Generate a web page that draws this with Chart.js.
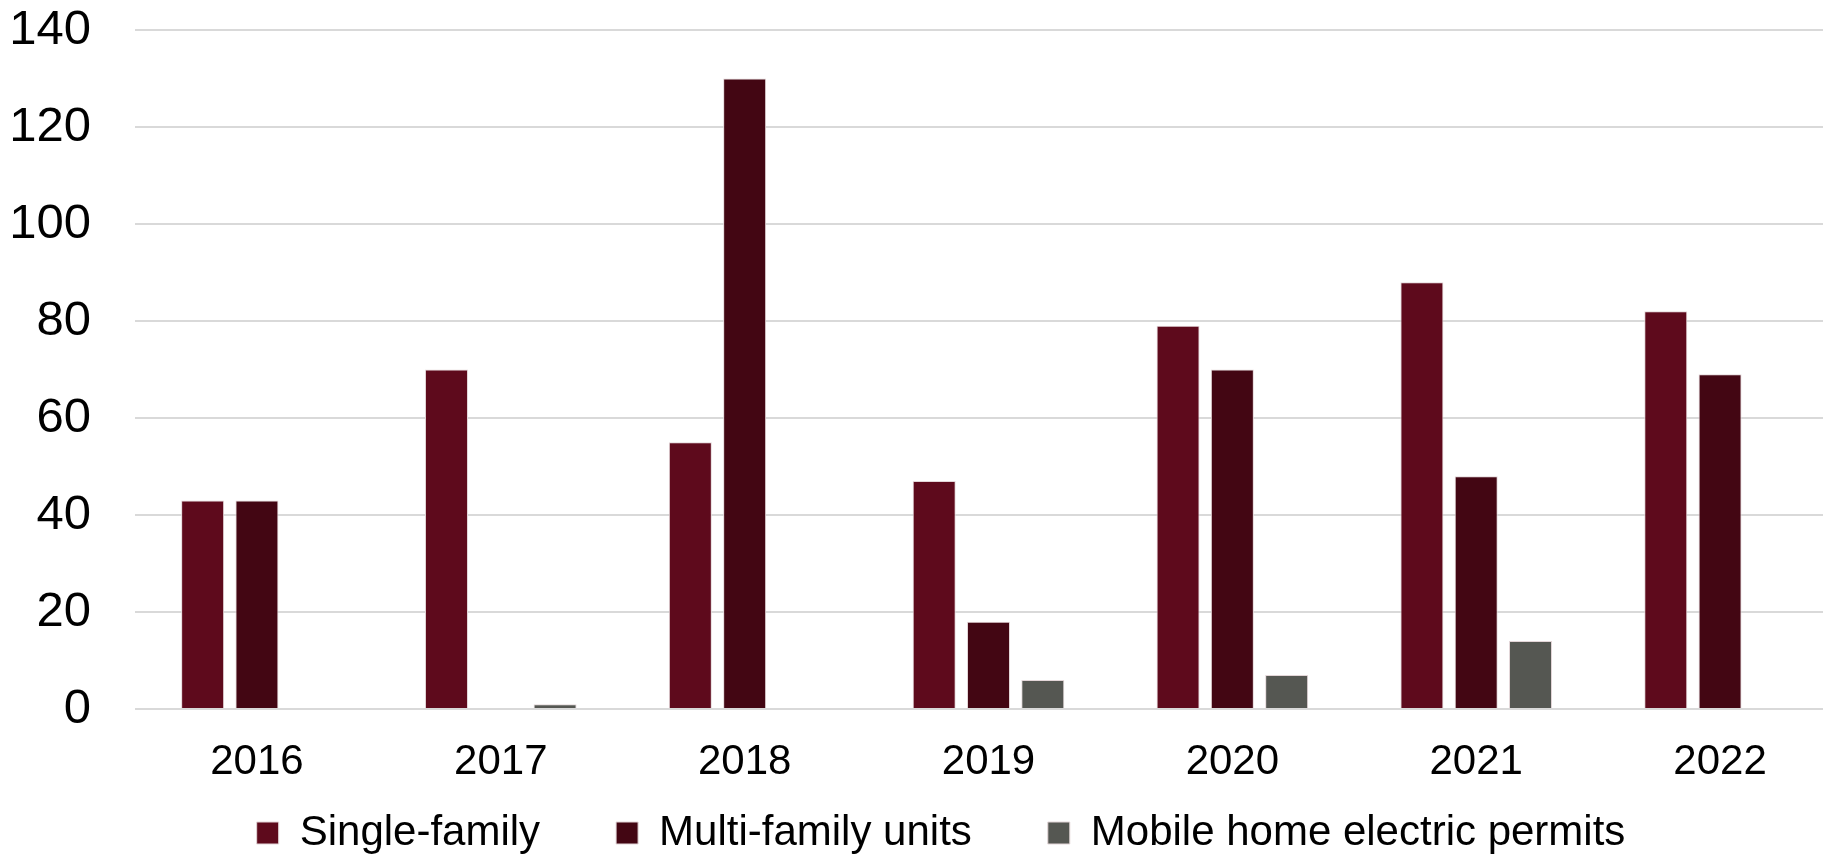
<!DOCTYPE html>
<html>
<head>
<meta charset="utf-8">
<script src="https://cdn.jsdelivr.net/npm/chart.js@4/dist/chart.umd.min.js"></script>
<style>
  html, body { margin: 0; padding: 0; overflow: hidden; background: #fff; width: 1823px; height: 857px; }
  #wrap { position: absolute; left: 0; top: 0; width: 1845px; height: 913px; }
</style>
</head>
<body>
<div id="wrap"><canvas id="chart" width="1845" height="913"></canvas></div>
<script>
const years = ["2016", "2017", "2018", "2019", "2020", "2021", "2022"];
const singleFamily = [43, 70, 55, 47, 79, 88, 82];
const multiFamily = [43, null, 130, 18, 70, 48, 69];
const mobileHome = [null, 1, null, 6, 7, 14, null];
const yTicks = [0, 20, 40, 60, 80, 100, 120, 140];

const fontFamily = "'Liberation Sans', Arial, sans-serif";

// nudge the legend into place after layout (the canvas is wider/taller than the view)
const legendShift = {
    id: "legendShift",
    afterLayout(chart) {
        const lg = chart.legend;
        lg.left += 20;
        lg.right += 20;
        lg.top -= 49;
        lg.bottom -= 49;
    },
};

new Chart(document.getElementById("chart"), {
    type: "bar",
    data: {
        labels: years,
        datasets: [
            { label: "Single-family", data: singleFamily, backgroundColor: "#5e0a1c" },
            { label: "Multi-family units", data: multiFamily, backgroundColor: "#430613" },
            { label: "Mobile home electric permits", data: mobileHome, backgroundColor: "#555752" },
        ].map((d) => ({
            ...d,
            borderColor: "#e3d6d8",
            borderWidth: 1,
            borderSkipped: "bottom",
            categoryPercentage: 0.668,
            barPercentage: 0.792,
        })),
    },
    plugins: [legendShift],
    options: {
        responsive: false,
        animation: false,
        layout: { padding: { left: 0, right: 3, top: 30, bottom: 0 } },
        plugins: {
            tooltip: { enabled: false },
            legend: {
                position: "bottom",
                labels: {
                    color: "#000",
                    font: { family: fontFamily, size: 42 },
                    boxWidth: 22,
                    boxHeight: 22,
                    padding: 76,
                },
            },
        },
        scales: {
            x: {
                afterFit: (scale) => {
                    scale.height = 76;
                },
                grid: { display: false, drawTicks: false },
                border: { display: false },
                ticks: {
                    color: "#000",
                    font: { family: fontFamily, size: 42 },
                    padding: 28,
                },
            },
            y: {
                min: 0,
                max: 140,
                afterBuildTicks: (scale) => {
                    scale.ticks = yTicks.map((v) => ({ value: v }));
                },
                afterFit: (scale) => {
                    scale.width = 135;
                    scale.paddingTop = 0;
                    scale.paddingBottom = 0;
                },
                grid: { color: "#d9d9d9", lineWidth: 2, drawTicks: false },
                border: { display: false },
                ticks: {
                    color: "#000",
                    font: { family: fontFamily, size: 49 },
                    padding: 44,
                },
            },
        },
    },
});
</script>
</body>
</html>
